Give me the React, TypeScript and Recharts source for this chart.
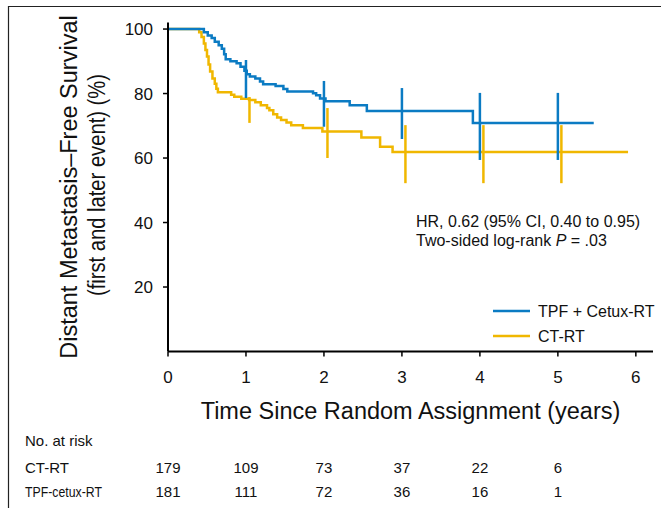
import React from 'react';
import { ComposedChart, Line, Scatter, ErrorBar, XAxis, YAxis } from 'recharts';

// Kaplan-Meier steps
const tpfTimes = [0, 0.46, 0.51, 0.56, 0.6, 0.65, 0.69, 0.72, 0.74, 0.8, 0.88, 0.93, 0.98, 1.01, 1.05, 1.12, 1.18, 1.22, 1.38, 1.48, 1.53, 1.86, 1.9, 1.95, 2.02, 2.33, 2.55, 3.91, 5.46];
const tpfSurv = [100, 99.0, 98.0, 97.2, 96.1, 95.0, 93.9, 92.2, 90.6, 90.0, 89.4, 88.3, 87.1, 86.0, 85.3, 84.7, 83.7, 82.9, 82.3, 81.4, 80.6, 80.1, 79.5, 78.5, 77.6, 76.4, 74.6, 70.9, 70.9];

const ctTimes = [0, 0.4, 0.43, 0.46, 0.48, 0.5, 0.52, 0.54, 0.57, 0.6, 0.62, 0.64, 0.81, 0.85, 0.94, 1.04, 1.12, 1.19, 1.27, 1.3, 1.35, 1.4, 1.45, 1.52, 1.58, 1.73, 1.98, 2.48, 2.72, 2.88, 5.9];
const ctSurv = [100, 99.0, 97.5, 95.5, 93.5, 91.5, 89.0, 86.8, 84.7, 83.0, 81.5, 80.4, 79.6, 79.0, 78.4, 78.0, 77.3, 76.4, 75.5, 74.8, 73.6, 72.6, 71.8, 71.0, 70.2, 69.3, 68.2, 66.4, 63.5, 61.9, 61.9];

// 95% CI bars at each year
const ciYears = [1, 2, 3, 4, 5];
const tpfLow = [78.6, 69.7, 65.9, 59.4, 59.4];
const tpfHigh = [90.4, 83.9, 81.7, 80.2, 80.2];
const ctLow = [70.9, 60.0, 52.2, 52.2, 52.2];
const ctHigh = [78.9, 75.5, 70.2, 70.2, 70.2];
const ctShift = 0.045;

const xTicks = [0, 1, 2, 3, 4, 5, 6];
const yTicks = [20, 40, 60, 80, 100];
const riskYears = [0, 1, 2, 3, 4, 5];
const ctRisk = [179, 109, 73, 37, 22, 6];
const tpfRisk = [181, 111, 72, 36, 16, 1];

const BLUE = '#0b7bc3';
const YELLOW = '#f0b700';
const FONT = '"Liberation Sans", Arial, sans-serif';
const X_DOMAIN = [0, 6.22];

const tpfData = tpfTimes.map((t, i) => ({ t, v: tpfSurv[i] }));
const ctData = ctTimes.map((t, i) => ({ t, v: ctSurv[i] }));
const ciData = (low: number[], high: number[], shift: number) =>
  ciYears.map((t, i) => ({ t: t + shift, v: (low[i] + high[i]) / 2, err: (high[i] - low[i]) / 2 }));
// invisible anchors so the at-risk axes get drawn
const riskAnchor = riskYears.map((t) => ({ t, v: 0 }));

const YTitle = (props: any) => {
  const { x, y, height } = props.viewBox;
  const cy = y + height / 2;
  return (
    <g fontFamily={FONT} fontSize={23.5} fill="#111">
      <text transform={`translate(${x + 77},${cy}) rotate(-90)`} textAnchor="middle">
        Distant Metastasis–Free Survival
      </text>
      <text transform={`translate(${x + 105},${cy - 2}) rotate(-90)`} textAnchor="middle" textLength={222} lengthAdjust="spacingAndGlyphs">
        (first and later event) (%)
      </text>
    </g>
  );
};

const XTitle = (props: any) => {
  const { x, y, width } = props.viewBox;
  return (
    <text x={x + width / 2} y={y + 67} textAnchor="middle" fontFamily={FONT} fontSize={23.5} fill="#111">
      Time Since Random Assignment (years)
    </text>
  );
};

const hidden = () => <g />;

export default function App() {
  return (
    <div style={{ position: 'absolute', left: 0, top: 0, width: 661, height: 508, background: '#fff' }}>
      <ComposedChart width={661} height={508} margin={{ top: 22.6, right: 8, left: 0, bottom: 0 }}>
        <XAxis
          xAxisId="a1"
          type="number"
          dataKey="t"
          domain={X_DOMAIN}
          ticks={xTicks}
          interval={0}
          height={111.1}
          tickSize={5}
          tickMargin={14.5}
          axisLine={{ stroke: '#000', strokeWidth: 2 }}
          tickLine={{ stroke: '#000', strokeWidth: 1.5 }}
          tick={{ fontSize: 17, fill: '#111', fontFamily: FONT }}
          label={{ content: XTitle }}
        />
        <XAxis
          xAxisId="a2"
          type="number"
          dataKey="t"
          domain={X_DOMAIN}
          ticks={riskYears}
          interval={0}
          height={24}
          tickSize={0}
          tickMargin={0}
          axisLine={false}
          tickLine={false}
          tickFormatter={(v: number) => String(ctRisk[riskYears.indexOf(v)])}
          tick={{ fontSize: 15, fill: '#111', fontFamily: FONT }}
        />
        <XAxis
          xAxisId="a3"
          type="number"
          dataKey="t"
          domain={X_DOMAIN}
          ticks={riskYears}
          interval={0}
          height={21.4}
          tickSize={0}
          tickMargin={0}
          axisLine={false}
          tickLine={false}
          tickFormatter={(v: number) => String(tpfRisk[riskYears.indexOf(v)])}
          tick={{ fontSize: 15, fill: '#111', fontFamily: FONT }}
        />
        <YAxis
          type="number"
          domain={[0, 102]}
          ticks={yTicks}
          interval={0}
          width={168}
          tickSize={5}
          tickMargin={10}
          axisLine={{ stroke: '#000', strokeWidth: 2 }}
          tickLine={{ stroke: '#000', strokeWidth: 1.5 }}
          tick={{ fontSize: 17, fill: '#111', fontFamily: FONT }}
          label={{ content: YTitle }}
        />
        <Scatter xAxisId="a2" data={riskAnchor} dataKey="v" shape={hidden} isAnimationActive={false} />
        <Scatter xAxisId="a3" data={riskAnchor} dataKey="v" shape={hidden} isAnimationActive={false} />
        <Line xAxisId="a1" data={ctData} dataKey="v" type="stepAfter" stroke={YELLOW} strokeWidth={2.5} dot={false} activeDot={false} isAnimationActive={false} />
        <Line xAxisId="a1" data={tpfData} dataKey="v" type="stepAfter" stroke={BLUE} strokeWidth={2.5} dot={false} activeDot={false} isAnimationActive={false} />
        <Scatter xAxisId="a1" data={ciData(ctLow, ctHigh, ctShift)} dataKey="v" shape={hidden} isAnimationActive={false}>
          <ErrorBar dataKey="err" direction="y" width={0} stroke={YELLOW} strokeWidth={2.5} />
        </Scatter>
        <Scatter xAxisId="a1" data={ciData(tpfLow, tpfHigh, 0)} dataKey="v" shape={hidden} isAnimationActive={false}>
          <ErrorBar dataKey="err" direction="y" width={0} stroke={BLUE} strokeWidth={2.5} />
        </Scatter>
      </ComposedChart>
      <svg width={661} height={508} style={{ position: 'absolute', left: 0, top: 0, pointerEvents: 'none' }} fontFamily={FONT} fill="#111">
        <line x1={8} y1={6.5} x2={661} y2={6.5} stroke="#222" strokeWidth={1.2} />
        <line x1={8.5} y1={6} x2={8.5} y2={508} stroke="#222" strokeWidth={1.2} />
        <line x1={493} y1={311} x2={530} y2={311} stroke={BLUE} strokeWidth={2.5} />
        <line x1={493} y1={336} x2={530} y2={336} stroke={YELLOW} strokeWidth={2.5} />
        <text x={538} y={316.7} fontSize={16}>TPF + Cetux-RT</text>
        <text x={538} y={341.7} fontSize={16}>CT-RT</text>
        <text x={416} y={226.5} fontSize={16}>HR, 0.62 (95% CI, 0.40 to 0.95)</text>
        <text x={416} y={245.5} fontSize={16}>
          Two-sided log-rank <tspan fontStyle="italic">P</tspan> = .03
        </text>
        <text x={25} y={446.4} fontSize={15}>No. at risk</text>
        <text x={25} y={473.4} fontSize={15}>CT-RT</text>
        <text transform="translate(25,497.4) scale(0.82,1)" fontSize={15}>TPF-cetux-RT</text>
      </svg>
    </div>
  );
}
